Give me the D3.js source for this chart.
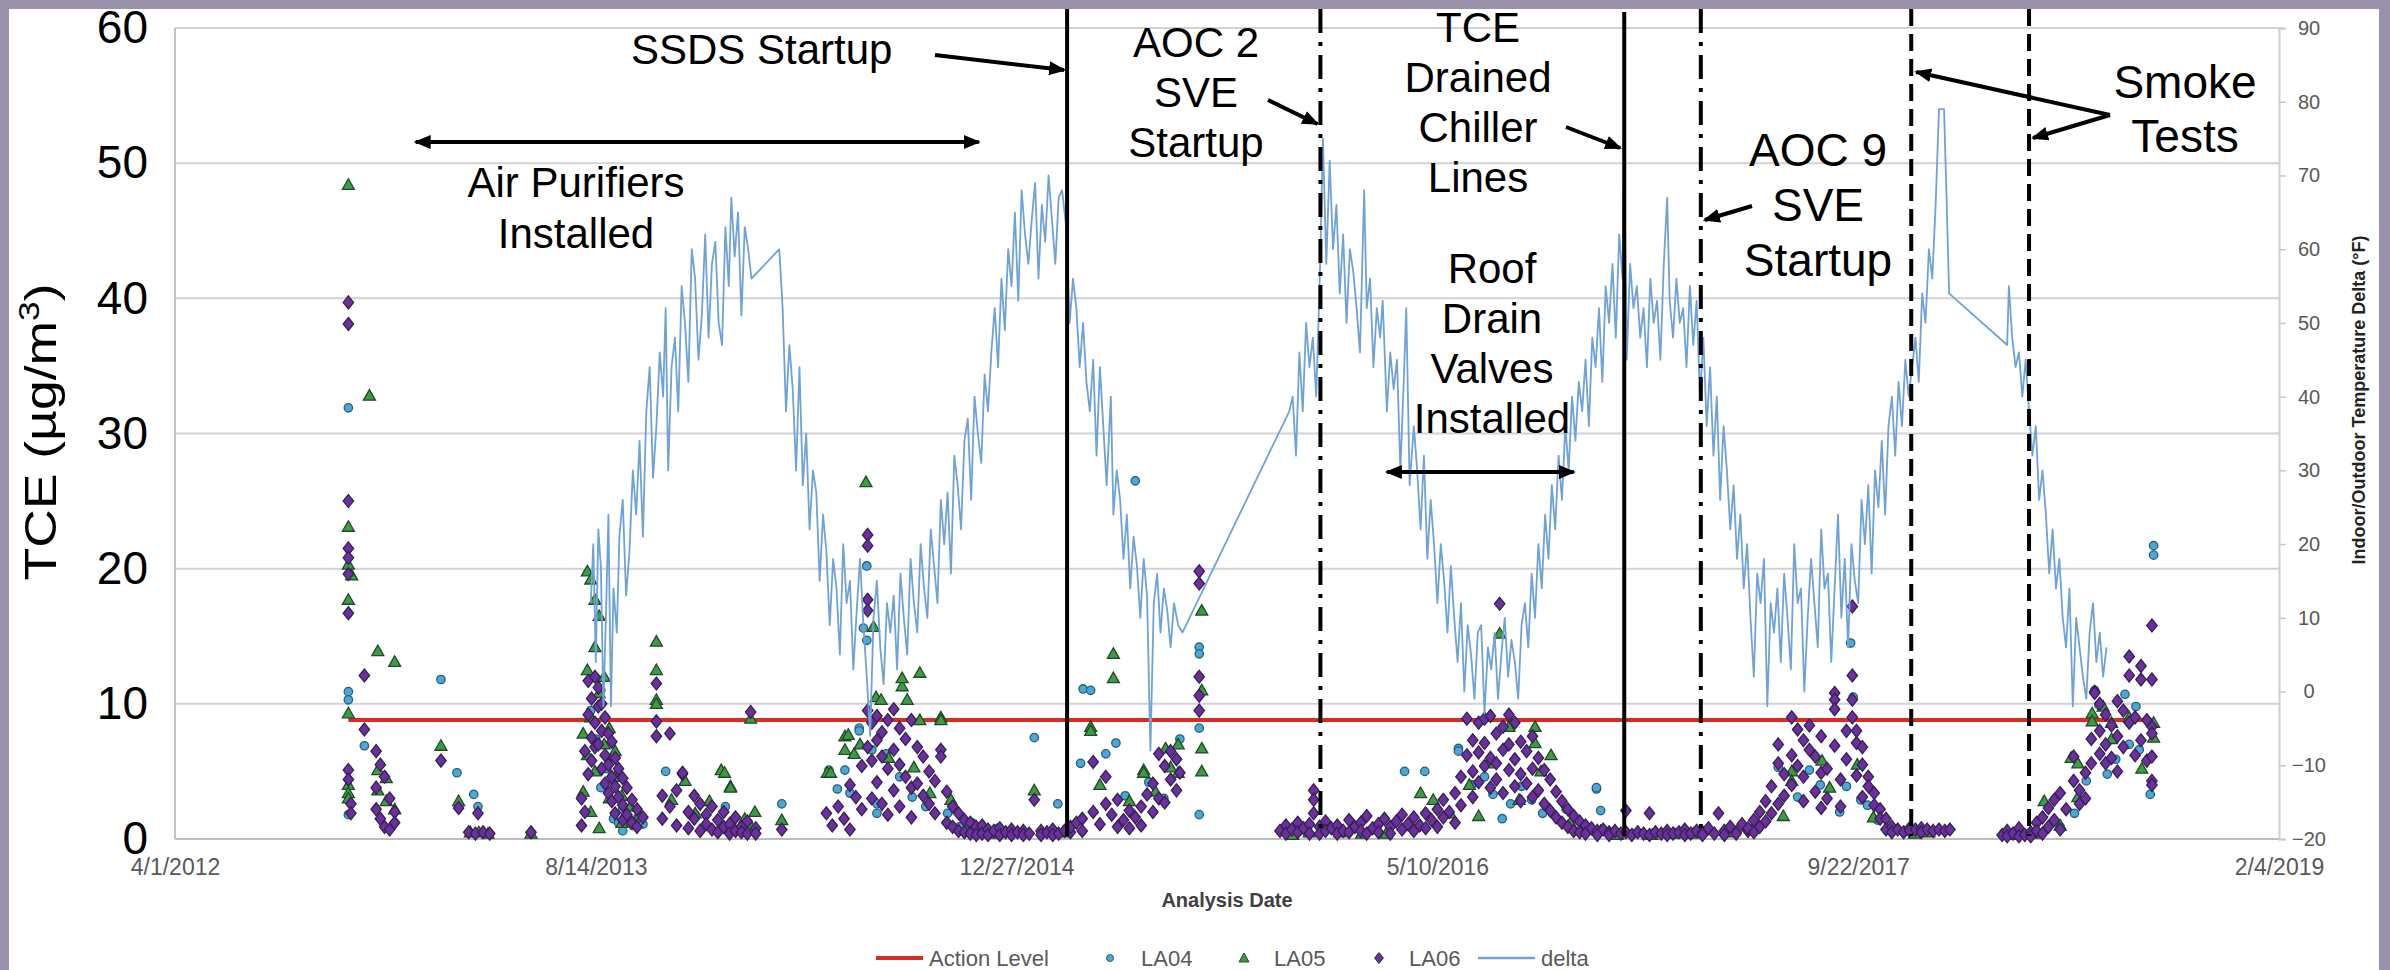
<!DOCTYPE html>
<html>
<head>
<meta charset="utf-8">
<script src="https://cdn.jsdelivr.net/npm/d3@7"></script>
<style>
  html, body { margin: 0; padding: 0; background: #fff; }
  svg { display: block; font-family: "Liberation Sans", Arial, sans-serif; }
</style>
</head>
<body>
<svg id="chart" width="2390" height="970"></svg>
<script>
// ---- data ----
var leftTicks = [0, 10, 20, 30, 40, 50, 60];
var rightTicks = [-20, -10, 0, 10, 20, 30, 40, 50, 60, 70, 80, 90];
var xTickDates = ["2012-04-01", "2013-08-14", "2014-12-27", "2016-05-10", "2017-09-22", "2019-02-04"];
var seriesNames = ["Action Level", "LA04", "LA05", "LA06", "delta"];

var actionLevel = 8.8;
var actionDates = ["2012-10-24", "2018-09-08"];

var eventNames = ["SSDS Startup", "AOC 2 SVE Startup", "TCE Drained Chiller Lines", "AOC 9 SVE Startup", "Smoke Test 1", "Smoke Test 2"];
var eventDates = ["2015-02-25", "2015-12-23", "2016-12-18", "2017-03-19", "2017-11-24", "2018-04-13"];
var purifierSpan = ["2013-01-12", "2014-11-12"];
var roofSpan = ["2016-03-11", "2016-10-19"];

// LA04 (circles): [date, values sampled around that date]
var la04 = [
  ["2012-10-24",[31.9,10.9,10.3,1.8]],["2012-11-12",[6.9]],["2013-02-11",[11.8]],["2013-03-02",[4.9]],
  ["2013-03-22",[3.3]],["2013-03-27",[2.4]],["2013-08-08",[9.5]],["2013-08-14",[7.4]],["2013-08-20",[11.0,3.8]],
  ["2013-08-27",[5.2]],["2013-09-04",[1.5,6.1]],["2013-09-10",[1.2]],["2013-09-15",[0.6,2.2]],["2013-09-21",[1.3]],
  ["2013-09-27",[1.0]],["2013-10-03",[1.6]],["2013-10-09",[1.1]],["2013-11-05",[5.0]],["2013-12-10",[1.8]],
  ["2014-01-15",[2.4]],["2014-03-23",[2.6]],["2014-05-18",[5.1]],["2014-05-28",[3.7]],["2014-06-06",[5.1]],
  ["2014-06-12",[3.4]],["2014-06-23",[8.2,8.0]],["2014-06-28",[15.6]],["2014-07-02",[14.7,20.2]],["2014-07-08",[6.6]],
  ["2014-07-14",[2.6,1.9]],["2014-07-25",[6.3]],["2014-08-10",[4.6]],["2014-08-25",[3.1]],["2014-09-10",[2.4]],
  ["2014-10-06",[1.9]],["2014-10-20",[0.9]],["2014-11-04",[1.2]],["2014-12-05",[0.8]],["2015-01-17",[7.5]],
  ["2015-02-14",[2.6]],["2015-03-13",[5.6]],["2015-03-16",[11.1]],["2015-03-25",[11.0]],["2015-04-12",[6.3]],
  ["2015-04-24",[7.1]],["2015-05-05",[3.2]],["2015-05-17",[26.5]],["2015-06-02",[4.2]],["2015-06-20",[3.0]],
  ["2015-07-09",[7.4]],["2015-08-01",[14.2,13.7,8.2,1.8]],["2015-11-12",[0.5]],["2016-02-20",[0.6]],
  ["2016-04-01",[5.0]],["2016-04-25",[5.0]],["2016-06-04",[6.7,6.5]],["2016-06-20",[4.0]],["2016-07-05",[4.6]],
  ["2016-07-15",[3.3]],["2016-07-26",[1.5]],["2016-08-05",[2.6]],["2016-08-18",[3.9]],["2016-08-30",[2.9]],
  ["2016-09-12",[1.9]],["2016-10-10",[2.2]],["2016-11-15",[3.7,3.8]],["2016-11-20",[2.1]],["2016-12-28",[0.4]],
  ["2017-02-20",[0.5]],["2017-06-19",[5.3]],["2017-07-12",[3.1]],["2017-07-26",[5.1]],["2017-08-08",[4.0]],
  ["2017-08-31",[2.0]],["2017-09-08",[3.9]],["2017-09-13",[14.5]],["2017-09-16",[10.5]],["2017-09-25",[2.9]],
  ["2017-10-03",[2.5]],["2017-10-15",[1.4]],["2017-12-20",[0.6]],["2018-04-05",[0.4]],["2018-05-20",[0.9]],
  ["2018-06-06",[1.9]],["2018-06-20",[4.3]],["2018-06-30",[11.0]],["2018-07-05",[9.9]],["2018-07-15",[4.8]],
  ["2018-07-25",[5.9]],["2018-08-05",[10.7]],["2018-08-10",[7.0]],["2018-08-18",[9.8]],["2018-08-22",[6.6]],
  ["2018-09-04",[3.3]],["2018-09-08",[21.7,21.0]]
];

// LA05 (triangles)
var la05 = [
  ["2012-10-24",[48.4,23.1,20.3,17.7,9.3,4.0,3.4,3.0]],["2012-10-28",[19.5]],["2012-11-18",[32.8]],
  ["2012-11-28",[13.9,5.1,3.6]],["2012-12-08",[4.5,2.8]],["2012-12-18",[13.1,2.2]],["2013-02-11",[6.9]],
  ["2013-03-04",[2.8]],["2013-03-18",[0.5]],["2013-03-28",[0.5]],["2013-04-08",[0.4]],["2013-05-29",[0.4]],
  ["2013-07-30",[7.8,3.5]],["2013-08-04",[19.8,12.5,6.2]],["2013-08-08",[19.2,9.0,2.0]],["2013-08-13",[17.7,14.2,5.0]],
  ["2013-08-18",[16.5,10.8,0.8]],["2013-08-24",[12.0,7.0]],["2013-08-30",[8.2,3.0]],["2013-09-06",[6.5,4.6]],
  ["2013-09-14",[3.2,1.2]],["2013-09-24",[2.4]],["2013-10-05",[1.8]],["2013-10-25",[14.6,12.5,10.3,10.0]],
  ["2013-11-12",[2.9]],["2013-11-28",[4.3]],["2013-12-10",[1.9]],["2013-12-27",[2.8]],["2014-01-10",[5.1]],
  ["2014-01-14",[4.9]],["2014-01-21",[3.9,3.8]],["2014-02-07",[1.5]],["2014-02-14",[8.9,1.0]],["2014-02-19",[2.0]],
  ["2014-03-23",[1.4]],["2014-05-16",[4.9]],["2014-05-20",[4.9]],["2014-06-06",[7.6,6.6]],["2014-06-10",[7.7]],
  ["2014-06-17",[6.3]],["2014-06-24",[7.0]],["2014-07-01",[26.4]],["2014-07-10",[15.7]],["2014-07-13",[10.5]],
  ["2014-07-19",[10.3]],["2014-07-28",[6.0]],["2014-08-13",[11.3,11.9]],["2014-08-19",[10.3]],["2014-08-27",[5.3]],
  ["2014-09-03",[12.3,8.8]],["2014-09-15",[3.4]],["2014-09-28",[9.0,8.8]],["2014-10-10",[2.9]],["2014-10-30",[0.6]],
  ["2014-12-01",[0.4]],["2015-01-17",[3.6]],["2015-02-20",[0.5]],["2015-03-25",[8.3,8.0]],["2015-04-05",[4.0]],
  ["2015-04-21",[13.7,11.9]],["2015-05-10",[2.8]],["2015-05-27",[5.1,4.9]],["2015-06-10",[3.5]],["2015-06-22",[6.7]],
  ["2015-06-28",[5.3]],["2015-07-07",[7.0,4.9]],["2015-08-04",[16.9,11.0,6.7,5.0]],["2015-11-20",[0.3]],
  ["2015-12-10",[0.5]],["2016-01-15",[0.5]],["2016-02-10",[0.4]],["2016-03-10",[0.4]],["2016-04-20",[3.4]],
  ["2016-05-05",[2.9]],["2016-05-25",[1.9]],["2016-06-17",[4.0]],["2016-06-28",[1.7]],["2016-07-10",[5.6]],
  ["2016-07-23",[15.2]],["2016-08-03",[8.3]],["2016-08-15",[2.9]],["2016-09-03",[8.3,7.1]],["2016-09-10",[5.0]],
  ["2016-09-22",[6.2]],["2016-10-15",[1.2]],["2016-11-20",[0.6]],["2016-12-10",[0.3]],["2017-01-20",[0.3]],
  ["2017-02-15",[0.4]],["2017-03-10",[0.4]],["2017-04-20",[0.5]],["2017-05-20",[0.8]],["2017-06-25",[1.7]],
  ["2017-07-05",[5.0,4.3]],["2017-08-10",[5.8]],["2017-08-19",[3.8]],["2017-09-21",[5.5]],["2017-10-10",[1.6]],
  ["2017-11-28",[0.4]],["2017-12-15",[0.5]],["2018-03-25",[0.3]],["2018-04-20",[0.4]],["2018-05-01",[2.8]],
  ["2018-05-20",[1.0]],["2018-06-02",[6.0]],["2018-06-10",[5.6,3.1]],["2018-06-27",[9.3,8.7]],["2018-07-10",[9.8]],
  ["2018-07-20",[8.6,7.4]],["2018-08-10",[9.0]],["2018-08-25",[5.2]],["2018-09-08",[8.6,7.5]]
];

// LA06 (diamonds)
var la06 = [
  ["2012-10-24",[39.7,38.1,25.0,21.5,20.8,19.6,16.7,5.1,4.4]],["2012-10-27",[2.6,1.9]],["2012-11-12",[12.1,8.1]],
  ["2012-11-26",[6.5,3.8,2.2]],["2012-12-01",[5.5,1.5]],["2012-12-06",[4.6,0.9]],["2012-12-12",[3.0,0.7]],
  ["2012-12-18",[2.0,1.2]],["2013-02-11",[5.8]],["2013-03-04",[2.3]],["2013-03-16",[0.5]],["2013-03-24",[0.4]],
  ["2013-03-27",[1.9]],["2013-04-02",[0.5]],["2013-04-10",[0.4]],["2013-05-29",[0.5]],
  ["2013-07-28",[3.0,1.0]],["2013-08-01",[6.5,2.0]],["2013-08-05",[11.7,9.2,4.8]],["2013-08-09",[10.4,7.5,5.8]],
  ["2013-08-13",[12.0,8.6,6.8]],["2013-08-17",[11.2,9.8,7.0]],["2013-08-21",[10.0,8.0,5.2]],["2013-08-25",[9.0,6.2,4.1]],
  ["2013-08-29",[7.8,5.5,3.4]],["2013-09-02",[7.2,4.6,2.8]],["2013-09-06",[6.0,3.9,1.9]],["2013-09-10",[5.2,3.1]],
  ["2013-09-15",[4.5,2.5,1.4]],["2013-09-20",[3.8,1.8]],["2013-09-26",[2.9,1.2]],["2013-10-02",[2.2,0.9]],
  ["2013-10-09",[1.6]],["2013-10-25",[11.5,8.7,7.6]],["2013-11-01",[1.5,3.2]],["2013-11-10",[7.8,2.4]],
  ["2013-11-18",[3.6,1.0]],["2013-11-25",[4.8,4.9]],["2013-12-02",[2.0,0.8]],["2013-12-09",[3.2,1.5]],
  ["2013-12-16",[2.6,0.6]],["2013-12-23",[1.8,1.1]],["2013-12-30",[2.4,0.7]],["2014-01-06",[1.4,0.5]],
  ["2014-01-13",[2.0,0.9]],["2014-01-20",[1.1,0.4]],["2014-01-27",[1.6,0.6]],["2014-02-03",[0.9,0.5]],
  ["2014-02-10",[1.3,0.4]],["2014-02-14",[9.4]],["2014-02-20",[0.8,0.4]],["2014-03-23",[0.7]],
  ["2014-05-15",[1.9]],["2014-05-22",[1.0]],["2014-05-29",[2.4]],["2014-06-05",[1.5]],["2014-06-12",[0.7,4.0]],
  ["2014-06-19",[3.1]],["2014-06-26",[5.4,2.2]],["2014-07-03",[22.5,21.7,17.7,16.9,9.5,6.8]],["2014-07-08",[8.6,5.8,3.0]],
  ["2014-07-14",[9.1,7.3,4.2]],["2014-07-20",[7.9,6.1,2.6]],["2014-07-27",[8.8,5.2,1.8]],["2014-08-03",[9.6,6.6,3.6]],
  ["2014-08-10",[8.2,5.5,2.4]],["2014-08-17",[7.4,4.6]],["2014-08-24",[8.8,3.8,1.6]],["2014-08-31",[6.8,4.1]],
  ["2014-09-07",[6.1,3.2]],["2014-09-14",[5.0,2.6]],["2014-09-21",[4.3,1.9]],["2014-09-28",[6.6,6.1]],
  ["2014-10-05",[3.5,1.2]],["2014-10-12",[2.4,0.9]],["2014-10-19",[1.9,0.6]],["2014-10-26",[1.4,0.5]],
  ["2014-11-02",[1.2,0.4]],["2014-11-09",[0.9,0.3]],["2014-11-16",[1.0,0.4]],["2014-11-23",[0.7,0.3]],
  ["2014-11-30",[0.6]],["2014-12-07",[0.8,0.3]],["2014-12-14",[0.5]],["2014-12-21",[0.7,0.3]],["2014-12-28",[0.5]],
  ["2015-01-04",[0.6,0.3]],["2015-01-11",[0.4]],["2015-01-17",[2.9]],["2015-01-25",[0.6,0.3]],["2015-02-01",[0.5]],
  ["2015-02-08",[0.7,0.3]],["2015-02-15",[0.4]],["2015-02-22",[0.6]],["2015-03-01",[0.5,0.9]],["2015-03-08",[1.2]],
  ["2015-03-15",[1.5,0.6]],["2015-03-28",[5.7,2.0]],["2015-04-05",[1.1]],["2015-04-12",[4.6,2.6]],["2015-04-19",[1.8]],
  ["2015-04-26",[2.9,0.9]],["2015-05-03",[1.4]],["2015-05-10",[2.1,0.8]],["2015-05-17",[1.6]],["2015-05-24",[2.4,1.0]],
  ["2015-05-31",[3.3]],["2015-06-07",[2.0,4.1]],["2015-06-14",[6.3,3.0]],["2015-06-21",[5.4,2.7]],["2015-06-28",[4.4,6.5]],
  ["2015-07-05",[5.9,3.6]],["2015-07-09",[4.9]],["2015-08-01",[19.8,18.9,12.0,10.6,9.5]],
  ["2015-11-05",[0.6]],["2015-11-12",[1.0,0.4]],["2015-11-19",[0.7]],["2015-11-26",[1.2,0.5]],["2015-12-03",[0.8]],
  ["2015-12-10",[1.1,0.4]],["2015-12-15",[3.6,2.9,1.9]],["2015-12-22",[0.9,0.4]],["2015-12-29",[1.3,0.6]],
  ["2016-01-05",[0.8]],["2016-01-12",[1.0,0.4]],["2016-01-19",[0.6]],["2016-01-26",[1.4,0.5]],["2016-02-02",[0.9]],
  ["2016-02-09",[1.2,0.6]],["2016-02-16",[1.7,0.4]],["2016-02-23",[0.8]],["2016-03-01",[1.1,0.5]],["2016-03-08",[1.5]],
  ["2016-03-15",[0.9,0.4]],["2016-03-22",[1.3]],["2016-03-29",[0.7,1.8]],["2016-04-05",[1.1]],["2016-04-12",[1.6,0.6]],
  ["2016-04-19",[1.0]],["2016-04-26",[1.9,0.8]],["2016-05-03",[1.4]],["2016-05-10",[2.2,0.9]],["2016-05-17",[2.9,1.6]],
  ["2016-05-24",[2.0]],["2016-05-31",[3.4,1.2]],["2016-06-07",[4.6,2.5]],["2016-06-14",[6.2,8.9]],["2016-06-21",[7.3,5.0,3.1]],
  ["2016-06-28",[8.6,6.4,4.2]],["2016-07-05",[8.9,7.1,5.4]],["2016-07-12",[9.1,6.0,3.8]],["2016-07-19",[7.8,5.6,4.4]],
  ["2016-07-23",[17.4]],["2016-07-27",[8.3,6.6,3.4]],["2016-08-03",[9.2,7.0,5.1]],["2016-08-10",[8.6,5.9,3.9]],
  ["2016-08-17",[7.2,4.8,2.8]],["2016-08-24",[6.5,4.1]],["2016-08-31",[7.6,5.2,3.1]],["2016-09-07",[6.0,3.6]],
  ["2016-09-14",[5.1,2.6]],["2016-09-21",[4.4,2.1]],["2016-09-28",[3.5,1.6]],["2016-10-05",[2.8,1.2]],
  ["2016-10-12",[2.2,0.9]],["2016-10-19",[1.7,0.6]],["2016-10-26",[1.3,0.5]],["2016-11-02",[1.0,0.4]],
  ["2016-11-09",[0.8]],["2016-11-16",[0.6,0.3]],["2016-11-23",[0.7]],["2016-11-30",[0.5,0.3]],["2016-12-07",[0.6]],
  ["2016-12-14",[0.4]],["2016-12-20",[2.1,0.5]],["2016-12-27",[0.3]],["2017-01-03",[0.5]],["2017-01-10",[0.4]],
  ["2017-01-17",[1.9,0.3]],["2017-01-24",[0.5]],["2017-01-31",[0.4]],["2017-02-07",[0.6,0.3]],["2017-02-14",[0.4]],
  ["2017-02-21",[0.5]],["2017-02-28",[0.7,0.3]],["2017-03-07",[0.4]],["2017-03-14",[0.6]],["2017-03-21",[0.5,0.3]],
  ["2017-03-28",[0.8]],["2017-04-04",[0.4]],["2017-04-09",[1.9]],["2017-04-16",[0.6,0.3]],["2017-04-23",[0.9]],
  ["2017-04-30",[0.5,0.4]],["2017-05-07",[1.1]],["2017-05-14",[0.6,0.8]],
  ["2017-05-21",[1.4,0.5]],["2017-05-28",[2.0,0.9]],["2017-06-04",[2.8,1.3]],["2017-06-11",[3.9,1.9]],
  ["2017-06-19",[7.0,5.6,2.6]],["2017-06-26",[4.8,3.2]],["2017-07-05",[9.0,6.2,4.0]],["2017-07-12",[8.1,5.4]],
  ["2017-07-19",[7.3,4.6,2.8]],["2017-07-26",[6.6,8.4]],["2017-08-02",[6.1,3.5]],["2017-08-09",[7.6,4.9,2.3]],
  ["2017-08-16",[5.2,3.0]],["2017-08-25",[10.8,10.3,9.6,6.9]],["2017-09-01",[4.4,2.4]],["2017-09-08",[8.0,5.9]],
  ["2017-09-15",[17.2,12.1,10.3,9.0]],["2017-09-20",[8.0,7.1,4.7]],["2017-09-27",[6.8,5.5,3.1]],["2017-10-04",[4.6,3.9]],
  ["2017-10-11",[3.4,2.5]],["2017-10-18",[2.2,1.5]],["2017-10-25",[1.5,0.7]],["2017-11-01",[0.9,0.5]],
  ["2017-11-08",[0.7]],["2017-11-15",[0.5]],["2017-11-22",[0.8,0.6]],["2017-11-29",[0.7]],["2017-12-06",[0.8,0.5]],
  ["2017-12-13",[0.7]],["2017-12-20",[0.6]],["2017-12-27",[0.7]],["2018-01-03",[0.6]],["2018-01-09",[0.7]],
  ["2018-03-12",[0.3]],["2018-03-18",[0.6,0.2]],["2018-03-25",[0.4]],["2018-04-01",[0.8,0.2]],["2018-04-08",[0.3]],
  ["2018-04-15",[0.5,0.2]],["2018-04-22",[1.2,0.6]],["2018-04-29",[1.6,0.4]],["2018-05-06",[2.3,0.9]],
  ["2018-05-13",[2.9,1.4]],["2018-05-20",[3.4,0.7]],["2018-05-27",[2.2]],["2018-06-05",[6.1,4.3]],["2018-06-12",[3.6,2.6]],
  ["2018-06-19",[4.9,3.0]],["2018-06-26",[5.6,7.4]],["2018-06-30",[10.9,10.8]],["2018-07-06",[10.0,8.0,6.3]],
  ["2018-07-13",[9.2,7.0,5.6]],["2018-07-20",[8.4,6.0]],["2018-07-27",[10.2,7.6,5.0]],["2018-08-03",[9.5,6.8]],
  ["2018-08-10",[13.5,12.1,8.6]],["2018-08-17",[9.0,6.2]],["2018-08-24",[12.8,11.8,7.3]],["2018-08-31",[8.8,5.8]],
  ["2018-09-06",[15.8,11.8,8.3,7.8,6.1,4.3,4.0]]
];

// indoor/outdoor temperature delta (right axis, deg F)
var delta = [
  ["2013-08-08",12],["2013-08-11",20],["2013-08-14",4],["2013-08-17",22],["2013-08-20",17],["2013-08-23",-2],["2013-08-26",10],
  ["2013-08-29",24],["2013-09-01",-2],["2013-09-04",14],["2013-09-08",8],["2013-09-11",21],["2013-09-15",26],["2013-09-19",13],
  ["2013-09-23",19],["2013-09-27",30],["2013-10-01",24],["2013-10-05",34],["2013-10-09",21],["2013-10-13",38],["2013-10-17",44],
  ["2013-10-21",29],["2013-10-25",36],["2013-10-29",46],["2013-11-02",40],["2013-11-05",52],["2013-11-08",30],["2013-11-12",44],
  ["2013-11-16",48],["2013-11-20",38],["2013-11-24",55],["2013-11-28",50],["2013-12-02",42],["2013-12-06",60],["2013-12-10",56],
  ["2013-12-14",45],["2013-12-18",51],["2013-12-22",62],["2013-12-26",48],["2013-12-30",58],["2014-01-03",61],["2014-01-07",50],
  ["2014-01-11",47],["2014-01-15",63],["2014-01-19",55],["2014-01-22",67],["2014-01-26",59],["2014-01-30",65],["2014-02-03",51],
  ["2014-02-07",63],["2014-02-11",60],["2014-02-15",56],["2014-03-20",60],["2014-03-24",52],["2014-03-28",38],["2014-04-01",47],
  ["2014-04-05",41],["2014-04-09",30],["2014-04-13",44],["2014-04-17",28],["2014-04-21",35],["2014-04-25",22],["2014-04-29",30],
  ["2014-05-03",27],["2014-05-07",15],["2014-05-11",24],["2014-05-15",19],["2014-05-19",9],["2014-05-23",18],["2014-05-27",14],
  ["2014-05-31",5],["2014-06-04",20],["2014-06-08",12],["2014-06-12",15],["2014-06-16",3],["2014-06-20",11],["2014-06-24",18],
  ["2014-06-28",9],["2014-07-02",2],["2014-07-06",-6],["2014-07-10",10],["2014-07-14",15],["2014-07-18",6],["2014-07-22",1],
  ["2014-07-26",12],["2014-07-30",8],["2014-08-03",13],["2014-08-07",3],["2014-08-11",16],["2014-08-15",10],["2014-08-19",5],
  ["2014-08-23",18],["2014-08-27",12],["2014-08-31",8],["2014-09-04",20],["2014-09-08",14],["2014-09-12",10],["2014-09-16",22],
  ["2014-09-20",17],["2014-09-24",12],["2014-09-28",26],["2014-10-02",20],["2014-10-06",27],["2014-10-10",16],["2014-10-14",32],
  ["2014-10-18",28],["2014-10-22",22],["2014-10-26",34],["2014-10-30",37],["2014-11-03",26],["2014-11-07",40],["2014-11-11",35],
  ["2014-11-15",31],["2014-11-19",43],["2014-11-23",38],["2014-11-27",46],["2014-12-01",52],["2014-12-05",44],["2014-12-09",56],
  ["2014-12-13",49],["2014-12-17",60],["2014-12-21",55],["2014-12-25",65],["2014-12-29",53],["2015-01-02",68],["2015-01-06",62],
  ["2015-01-10",58],["2015-01-14",64],["2015-01-18",69],["2015-01-22",56],["2015-01-26",66],["2015-01-30",61],["2015-02-03",70],
  ["2015-02-07",64],["2015-02-11",58],["2015-02-15",67],["2015-02-19",68],["2015-02-24",63],["2015-02-28",50],["2015-03-04",56],
  ["2015-03-08",52],["2015-03-12",44],["2015-03-16",50],["2015-03-20",42],["2015-03-24",38],["2015-03-28",45],["2015-04-01",32],
  ["2015-04-05",44],["2015-04-09",36],["2015-04-13",28],["2015-04-18",40],["2015-04-21",24],["2015-04-25",30],["2015-04-29",26],
  ["2015-05-03",18],["2015-05-07",24],["2015-05-11",14],["2015-05-15",21],["2015-05-19",17],["2015-05-23",10],["2015-05-27",18],
  ["2015-05-31",13],["2015-06-04",-8],["2015-06-08",12],["2015-06-12",16],["2015-06-16",8],["2015-06-20",14],["2015-06-24",11],
  ["2015-06-28",6],["2015-07-02",12],["2015-07-07",9],["2015-07-12",8],["2015-11-16",38],["2015-11-20",40],["2015-11-24",32],
  ["2015-11-28",46],["2015-12-02",38],["2015-12-06",50],["2015-12-10",44],["2015-12-14",48],["2015-12-18",40],["2015-12-22",55],
  ["2015-12-26",75],["2015-12-30",58],["2016-01-03",72],["2016-01-07",60],["2016-01-11",66],["2016-01-15",54],["2016-01-19",62],
  ["2016-01-23",50],["2016-01-27",60],["2016-01-31",57],["2016-02-04",52],["2016-02-08",46],["2016-02-13",68],["2016-02-16",52],
  ["2016-02-20",56],["2016-02-24",44],["2016-02-28",52],["2016-03-03",48],["2016-03-06",53],["2016-03-11",38],["2016-03-15",46],
  ["2016-03-19",41],["2016-03-23",45],["2016-03-27",30],["2016-03-31",42],["2016-04-03",52],["2016-04-07",28],["2016-04-12",36],
  ["2016-04-16",30],["2016-04-20",22],["2016-04-24",32],["2016-04-28",18],["2016-05-02",26],["2016-05-06",20],["2016-05-10",12],
  ["2016-05-14",20],["2016-05-18",15],["2016-05-22",8],["2016-05-26",17],["2016-05-30",10],["2016-06-03",4],["2016-06-07",12],
  ["2016-06-11",0],["2016-06-15",9],["2016-06-19",5],["2016-06-23",-1],["2016-06-27",8],["2016-07-01",9],["2016-07-05",-3],
  ["2016-07-09",6],["2016-07-13",3],["2016-07-17",8],["2016-07-21",-1],["2016-07-25",5],["2016-07-29",10],["2016-08-02",2],
  ["2016-08-06",7],["2016-08-10",4],["2016-08-14",-1],["2016-08-18",9],["2016-08-22",12],["2016-08-26",6],["2016-08-30",16],
  ["2016-09-03",10],["2016-09-07",20],["2016-09-11",14],["2016-09-15",24],["2016-09-19",18],["2016-09-23",28],["2016-09-27",22],
  ["2016-10-01",32],["2016-10-05",26],["2016-10-09",36],["2016-10-13",30],["2016-10-17",40],["2016-10-21",34],["2016-10-25",42],
  ["2016-10-29",38],["2016-11-02",45],["2016-11-06",36],["2016-11-10",48],["2016-11-14",44],["2016-11-18",52],["2016-11-22",42],
  ["2016-11-26",55],["2016-11-30",50],["2016-12-04",58],["2016-12-08",48],["2016-12-12",62],["2016-12-16",56],["2016-12-18",72],
  ["2016-12-21",45],["2016-12-25",58],["2016-12-29",52],["2017-01-02",55],["2017-01-06",48],["2017-01-10",52],["2017-01-14",44],
  ["2017-01-18",56],["2017-01-22",50],["2017-01-26",53],["2017-01-30",45],["2017-02-03",58],["2017-02-07",67],["2017-02-10",53],
  ["2017-02-14",48],["2017-02-18",56],["2017-02-22",50],["2017-02-26",52],["2017-03-02",44],["2017-03-06",55],["2017-03-10",47],
  ["2017-03-14",53],["2017-03-18",40],["2017-03-22",48],["2017-03-26",36],["2017-03-30",44],["2017-04-03",32],["2017-04-07",40],
  ["2017-04-11",26],["2017-04-15",36],["2017-04-19",30],["2017-04-23",22],["2017-04-27",28],["2017-05-01",18],["2017-05-05",24],
  ["2017-05-09",14],["2017-05-13",20],["2017-05-17",10],["2017-05-21",2],["2017-05-25",16],["2017-05-29",12],["2017-06-02",18],
  ["2017-06-06",-2],["2017-06-10",12],["2017-06-14",8],["2017-06-18",14],["2017-06-22",4],["2017-06-26",16],["2017-06-30",10],
  ["2017-07-04",3],["2017-07-08",20],["2017-07-12",12],["2017-07-16",14],["2017-07-20",0],["2017-07-24",10],["2017-07-28",18],
  ["2017-08-01",12],["2017-08-05",6],["2017-08-09",22],["2017-08-13",14],["2017-08-17",16],["2017-08-21",4],["2017-08-25",14],
  ["2017-08-29",24],["2017-09-02",10],["2017-09-06",18],["2017-09-10",6],["2017-09-14",20],["2017-09-18",15],["2017-09-22",12],
  ["2017-09-26",26],["2017-09-30",20],["2017-10-04",28],["2017-10-08",16],["2017-10-12",30],["2017-10-16",25],["2017-10-20",34],
  ["2017-10-24",24],["2017-10-28",36],["2017-11-01",40],["2017-11-05",32],["2017-11-09",42],["2017-11-13",36],["2017-11-17",45],
  ["2017-11-21",40],["2017-11-25",44],["2017-11-29",48],["2017-12-03",42],["2017-12-07",54],["2017-12-11",50],["2017-12-15",60],
  ["2017-12-19",56],["2017-12-23",66],["2017-12-27",79],["2018-01-02",79],["2018-01-05",67],["2018-01-08",54],["2018-03-18",47],
  ["2018-03-20",55],["2018-03-24",48],["2018-03-28",44],["2018-04-01",46],["2018-04-05",40],["2018-04-09",45],["2018-04-13",38],
  ["2018-04-17",32],["2018-04-21",36],["2018-04-25",26],["2018-04-29",30],["2018-05-03",24],["2018-05-07",16],["2018-05-11",22],
  ["2018-05-15",14],["2018-05-19",18],["2018-05-23",10],["2018-05-27",6],["2018-05-31",14],["2018-06-04",-2],["2018-06-08",10],
  ["2018-06-12",6],["2018-06-16",2],["2018-06-20",-1],["2018-06-24",8],["2018-06-28",12],["2018-07-02",4],["2018-07-06",8],
  ["2018-07-10",2],["2018-07-14",6]
];

// ---- chart ----
var svgWidth = 2390;
var svgHeight = 970;
var parse = d3.timeParse("%Y-%m-%d");

var svg = d3.select("#chart");

// lavender frame around the white sheet
svg.append("rect").attr("width", svgWidth).attr("height", svgHeight).attr("fill", "#9a92aa");
svg.append("rect").attr("x", 9).attr("y", 9).attr("width", 2370).attr("height", 961).attr("fill", "#fff");

var xScale = d3.scaleTime()
  .domain([parse("2012-04-01"), parse("2019-02-04")])
  .range([175, 2279]);
var yScale = d3.scaleLinear().domain([0, 60]).range([839, 28]);
var y2Scale = d3.scaleLinear().domain([-20, 90]).range([839, 28]);

// gridlines
svg.append("g").selectAll("line")
  .data(leftTicks)
  .enter()
  .append("line")
  .attr("x1", xScale.range()[0])
  .attr("x2", xScale.range()[1])
  .attr("y1", d => yScale(d))
  .attr("y2", d => yScale(d))
  .attr("stroke", d => d === 0 ? "#bdbdbd" : "#d2d2d2")
  .attr("stroke-width", 2);

// plot border left
svg.append("line").attr("x1", 175).attr("x2", 175).attr("y1", yScale(60)).attr("y2", yScale(0))
  .attr("stroke", "#c4c4c4").attr("stroke-width", 2);

// left axis
var leftAxis = svg.append("g")
  .attr("transform", "translate(175,0)")
  .call(d3.axisLeft(yScale).tickValues(leftTicks).tickSize(0).tickPadding(27));
leftAxis.select(".domain").remove();
leftAxis.selectAll("text").attr("font-size", 46).attr("fill", "#000")
  .attr("font-family", "'Liberation Sans', Arial, sans-serif");

// right axis
var rightAxis = svg.append("g")
  .attr("transform", "translate(2279,0)")
  .call(d3.axisRight(y2Scale).tickValues(rightTicks).tickSize(7));
rightAxis.select(".domain").attr("stroke", "#d0d0d0").attr("stroke-width", 2);
rightAxis.selectAll("line").attr("stroke", "#c8c8c8").attr("stroke-width", 1.5);
rightAxis.selectAll("text")
  .attr("x", 30)
  .attr("text-anchor", "middle")
  .attr("font-size", 20)
  .attr("fill", "#595959")
  .attr("font-family", "'Liberation Sans', Arial, sans-serif");

// bottom axis
var bottomAxis = svg.append("g")
  .attr("transform", "translate(0,839)")
  .call(d3.axisBottom(xScale)
    .tickValues(xTickDates.map(parse))
    .tickFormat(d3.timeFormat("%-m/%-d/%Y"))
    .tickSize(0)
    .tickPadding(20));
bottomAxis.select(".domain").remove();
bottomAxis.selectAll("text").attr("font-size", 23).attr("fill", "#595959")
  .attr("font-family", "'Liberation Sans', Arial, sans-serif");

// axis titles
svg.append("text")
  .attr("x", 1227).attr("y", 907)
  .attr("text-anchor", "middle")
  .attr("font-size", 20).attr("font-weight", "bold").attr("fill", "#404040")
  .text("Analysis Date");

var yTitle = svg.append("text")
  .attr("transform", "translate(56,432) rotate(-90)")
  .attr("text-anchor", "middle")
  .attr("font-size", 44).attr("fill", "#000")
  .attr("textLength", 297).attr("lengthAdjust", "spacingAndGlyphs");
yTitle.append("tspan").text("TCE (µg/m");
yTitle.append("tspan").attr("font-size", 29).attr("dy", -17).text("3");
yTitle.append("tspan").attr("dy", 17).text(")");

svg.append("text")
  .attr("transform", "translate(2365,400) rotate(-90)")
  .attr("text-anchor", "middle")
  .attr("font-size", 18).attr("font-weight", "bold").attr("fill", "#222")
  .text("Indoor/Outdoor Temperature Delta (°F)");

// action level
svg.append("line")
  .attr("x1", xScale(parse(actionDates[0])))
  .attr("x2", xScale(parse(actionDates[1])))
  .attr("y1", yScale(actionLevel))
  .attr("y2", yScale(actionLevel))
  .attr("stroke", "#d92b22").attr("stroke-width", 4);

// flatten [date, [values]] groups into points
function flatten(groups) {
  var out = [];
  groups.forEach(function(g) {
    g[1].forEach(function(v) { out.push({date: parse(g[0]), value: v}); });
  });
  return out;
}

var trianglePath = "M0,-6L6,4.5L-6,4.5Z";
var diamondPath = "M0,-6.5L5.2,0L0,6.5L-5.2,0Z";

svg.append("g").selectAll("circle")
  .data(flatten(la04))
  .enter()
  .append("circle")
  .attr("cx", d => xScale(d.date))
  .attr("cy", d => yScale(d.value))
  .attr("r", 4.2)
  .attr("fill", "#4ea6d4")
  .attr("stroke", "#24607e")
  .attr("stroke-width", 1.3);

svg.append("g").selectAll("path")
  .data(flatten(la05))
  .enter()
  .append("path")
  .attr("d", trianglePath)
  .attr("transform", d => `translate(${xScale(d.date)},${yScale(d.value)})`)
  .attr("fill", "#3f9a46")
  .attr("stroke", "#1f4b25")
  .attr("stroke-width", 1.3);

svg.append("g").selectAll("path")
  .data(flatten(la06))
  .enter()
  .append("path")
  .attr("d", diamondPath)
  .attr("transform", d => `translate(${xScale(d.date)},${yScale(d.value)})`)
  .attr("fill", "#6b2f9f")
  .attr("stroke", "#35224f")
  .attr("stroke-width", 1.3);

// delta line
var deltaLine = d3.line()
  .x(d => xScale(parse(d[0])))
  .y(d => y2Scale(d[1]));
svg.append("path")
  .datum(delta)
  .attr("d", deltaLine)
  .attr("fill", "none")
  .attr("stroke", "#6fa2d9")
  .attr("stroke-width", 1.8)
  .attr("stroke-linejoin", "round");

// event lines
var eventDash = ["", "24,9,4,9", "", "24,9,4,9", "17,8", "17,8"];
svg.append("g").selectAll("line")
  .data(eventDates)
  .enter()
  .append("line")
  .attr("x1", d => xScale(parse(d)))
  .attr("x2", d => xScale(parse(d)))
  .attr("y1", (d, i) => i === 2 ? 12 : 9)
  .attr("y2", yScale(0) - 3)
  .attr("stroke", "#000")
  .attr("stroke-width", 4)
  .attr("stroke-dasharray", (d, i) => eventDash[i]);

// arrowheads
var defs = svg.append("defs");
defs.append("marker")
  .attr("id", "head")
  .attr("markerUnits", "userSpaceOnUse")
  .attr("markerWidth", 18).attr("markerHeight", 16)
  .attr("refX", 15).attr("refY", 8)
  .attr("orient", "auto-start-reverse")
  .append("path")
  .attr("d", "M0,1L17,8L0,15Z")
  .attr("fill", "#000");

function arrow(x1, y1, x2, y2, both) {
  var l = svg.append("line")
    .attr("x1", x1).attr("y1", y1).attr("x2", x2).attr("y2", y2)
    .attr("stroke", "#000").attr("stroke-width", 4)
    .attr("marker-end", "url(#head)");
  if (both) l.attr("marker-start", "url(#head)");
}

function label(lines, cx, y0, step, size) {
  var t = svg.append("text")
    .attr("text-anchor", "middle")
    .attr("font-size", size)
    .attr("fill", "#000");
  lines.forEach(function(s, i) {
    t.append("tspan").attr("x", cx).attr("y", y0 + i * step).text(s);
  });
}

// annotations
svg.append("text").attr("x", 631).attr("y", 64).attr("font-size", 42).attr("fill", "#000").text("SSDS Startup");
arrow(935, 55, xScale(parse(eventDates[0])) - 3, 70);

arrow(xScale(parse(purifierSpan[0])), 142, xScale(parse(purifierSpan[1])), 142, true);
label(["Air Purifiers", "Installed"], 576, 197, 51, 42);

label(["AOC 2", "SVE", "Startup"], 1196, 57, 50, 42);
arrow(1268, 100, xScale(parse(eventDates[1])) - 3, 124);

label(["TCE", "Drained", "Chiller", "Lines"], 1478, 42, 50, 42);
arrow(1566, 127, xScale(parse(eventDates[2])) - 4, 148);

label(["Roof", "Drain", "Valves", "Installed"], 1492, 283, 50, 42);
arrow(xScale(parse(roofSpan[0])), 472, xScale(parse(roofSpan[1])), 472, true);

label(["AOC 9", "SVE", "Startup"], 1818, 166, 55, 46);
arrow(1752, 206, xScale(parse(eventDates[3])) + 4, 220);

label(["Smoke", "Tests"], 2185, 98, 54, 46);
arrow(2110, 115, xScale(parse(eventDates[4])) + 5, 72);
arrow(2110, 115, xScale(parse(eventDates[5])) + 4, 138);

// legend
var legendY = 958;
var legend = svg.append("g").attr("font-size", 22).attr("fill", "#595959");
legend.append("line").attr("x1", 876).attr("x2", 923).attr("y1", legendY).attr("y2", legendY)
  .attr("stroke", "#d92b22").attr("stroke-width", 4);
legend.append("circle").attr("cx", 1110).attr("cy", legendY).attr("r", 3.5)
  .attr("fill", "#4ea6d4").attr("stroke", "#24607e").attr("stroke-width", 1);
legend.append("path").attr("d", "M0,-5L5,4L-5,4Z").attr("transform", `translate(1244,${legendY})`)
  .attr("fill", "#3f9a46").attr("stroke", "#1f4b25").attr("stroke-width", 1);
legend.append("path").attr("d", "M0,-5.5L4.4,0L0,5.5L-4.4,0Z").attr("transform", `translate(1379,${legendY})`)
  .attr("fill", "#6b2f9f").attr("stroke", "#35224f").attr("stroke-width", 1);
legend.append("line").attr("x1", 1478).attr("x2", 1535).attr("y1", legendY).attr("y2", legendY)
  .attr("stroke", "#6fa2d9").attr("stroke-width", 2.5);
var legendTextX = [929, 1141, 1274, 1409, 1541];
legend.selectAll("text")
  .data(seriesNames)
  .enter()
  .append("text")
  .attr("x", (d, i) => legendTextX[i])
  .attr("y", legendY + 8)
  .text(d => d);
</script>
</body>
</html>
